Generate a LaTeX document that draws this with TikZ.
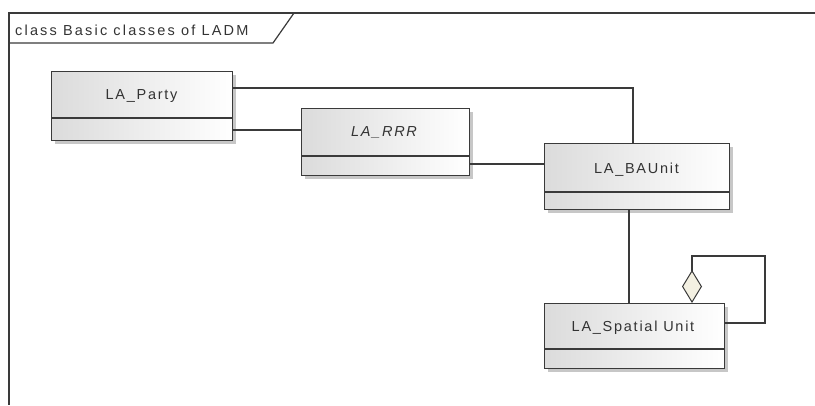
\documentclass[tikz,border=0pt]{standalone}
\usepackage{fontspec}
\setmainfont{Liberation Sans}
\newfontfamily\umlfont[LetterSpace=12]{Liberation Sans}
\newfontfamily\titlefont[LetterSpace=15]{Liberation Sans}
\usetikzlibrary{shadows,arrows.meta,calc}
\definecolor{linec}{HTML}{3A3A3A}
\definecolor{diamondc}{HTML}{F3F0E2}
\tikzset{
  classbox/.style={draw=linec, line width=1.3pt, left color=black!14, right color=white,
    drop shadow={shadow xshift=3pt, shadow yshift=-3pt, fill=black!40, opacity=0.55},
    inner sep=0pt, anchor=north west},
  divider/.style={draw=linec, line width=1.3pt},
  classtext/.style={font=\umlfont\fontsize{14.5}{16}\selectfont, text=black!80, inner sep=0pt,
    text height=0.72em, text depth=0pt, anchor=center},
  conn/.style={draw=linec, line width=1.1pt},
  framel/.style={draw=linec, line width=1.2pt},
}
\begin{document}
\begin{tikzpicture}[x=1pt,y=-1pt]
\useasboundingbox (0,0) rectangle (815,405);
% frame
\draw[framel] (815,13) -- (9,13) -- (9,405);
\draw[framel] (9,43) -- (273,43) -- (294,13);
\node[font=\titlefont\fontsize{14.5}{16}\selectfont, text=black!80, anchor=base west, inner sep=0pt] (title) at (15,35) {class Basic classes of LADM};
% classes
\node[classbox, minimum width=181pt, minimum height=69pt] (party) at (51,71) {};
\draw[divider] (party.west |- 0,118) -- (party.east |- 0,118);
\node[classtext] (partyl) at (141.5,96) {LA\_Party};

\node[classbox, minimum width=168pt, minimum height=67pt] (rrr) at (301,108) {};
\draw[divider] (rrr.west |- 0,156) -- (rrr.east |- 0,156);
\node[classtext, font=\umlfont\itshape\fontsize{14.5}{16}\selectfont] (rrrl) at (384,133) {LA\_RRR};

\node[classbox, minimum width=185pt, minimum height=66pt] (bau) at (544,143) {};
\draw[divider] (bau.west |- 0,192) -- (bau.east |- 0,192);
\node[classtext] (baul) at (636.5,170) {LA\_BAUnit};

\node[classbox, minimum width=180pt, minimum height=65pt] (sp) at (544,303) {};
\draw[divider] (sp.west |- 0,349) -- (sp.east |- 0,349);
\node[classtext] (spl) at (633,328) {LA\_Spatial Unit};
% connectors
\draw[conn] (party.east |- 0,88) -| (bau.north -| 633,0);
\draw[conn] (party.east |- 0,130) -- (rrr.west |- 0,130);
\draw[conn] (rrr.east |- 0,164) -- (bau.west |- 0,164);
\draw[conn] (bau.south -| 629,0) -- (sp.north -| 629,0);
\draw[conn, -{Diamond[length=33pt, width=20pt, fill=diamondc, line width=1pt]}]
  (sp.east |- 0,323) -| (765,256) -| (sp.north -| 692,0);
\end{tikzpicture}
\end{document}
